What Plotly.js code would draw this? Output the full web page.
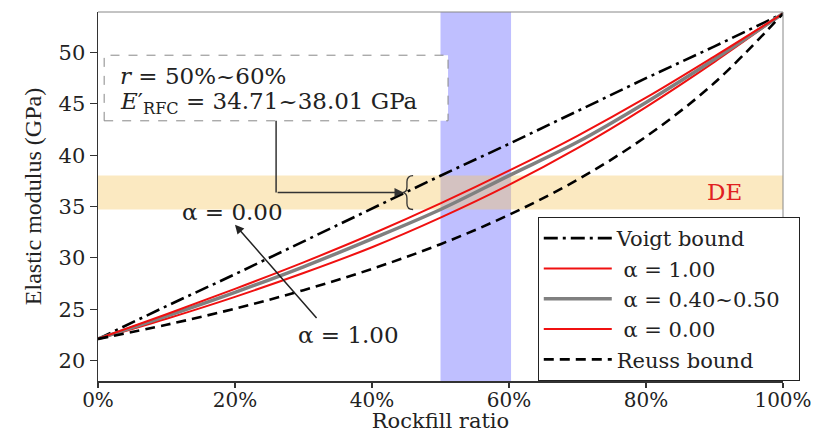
<!DOCTYPE html>
<html><head><meta charset="utf-8">
<script src="https://cdn.plot.ly/plotly-3.0.1.min.js"></script>
<style>html,body{margin:0;padding:0;background:#fff}#chart{width:820px;height:433px}</style>
</head><body><div id="chart"></div>
<script>
// Data
const rockfillRatio = [0, 10, 20, 30, 40, 50, 60, 70, 80, 90, 100];
const voigtBound   = [22.1, 25.3, 28.4, 31.6, 34.8, 38.0, 41.1, 44.3, 47.5, 50.6, 53.8];
const alpha100     = [22.1, 24.07, 26.20, 28.52, 31.03, 33.91, 37.10, 40.68, 44.69, 49.09, 53.8];
const alpha040050  = [22.1, 24.32, 26.64, 29.13, 31.85, 34.71, 38.01, 41.28, 45.14, 49.34, 53.8];
const alpha000     = [22.1, 24.50, 26.98, 29.56, 32.32, 35.30, 38.49, 41.89, 45.60, 49.63, 53.8];
const reussBound   = [22.1, 23.48, 25.05, 26.85, 28.92, 31.33, 34.19, 37.61, 41.81, 47.05, 53.8];
const seriesNames  = ['Voigt bound', ' α = 1.00', ' α = 0.40~0.50\u00a0\u00a0', ' α = 0.00', 'Reuss bound'];
const xTickVals = [0, 20, 40, 60, 80, 100];
const xTickText = ['0%', '20%', '40%', '60%', '80%', '100%'];
const yTickVals = [20, 25, 30, 35, 40, 45, 50];
const ratioRange = [50, 60];
const modulusRange = [34.71, 38.01];

const serif = 'DejaVu Serif, serif';
const times = 'Liberation Serif, Times New Roman, serif';

const traces = [
  {x: rockfillRatio, y: voigtBound, name: seriesNames[0], mode: 'lines',
   line: {color: '#000', width: 2.6, dash: '14px,5px,3px,5px'}},
  {x: rockfillRatio, y: alpha100, name: seriesNames[1], mode: 'lines',
   line: {color: '#f01010', width: 2, shape: 'spline'}},
  {x: rockfillRatio, y: alpha040050, name: seriesNames[2], mode: 'lines',
   line: {color: '#808080', width: 3.5, shape: 'spline'}},
  {x: rockfillRatio, y: alpha000, name: seriesNames[3], mode: 'lines',
   line: {color: '#f01010', width: 2, shape: 'spline'}},
  {x: rockfillRatio, y: reussBound, name: seriesNames[4], mode: 'lines',
   line: {color: '#000', width: 2.6, dash: '10px,6px', shape: 'spline'}}
];

const midE = (modulusRange[0] + modulusRange[1]) / 2;

const layout = {
  width: 820, height: 433,
  margin: {l: 98, r: 37, t: 12, b: 52},
  paper_bgcolor: '#fff', plot_bgcolor: '#fff',
  showlegend: true,
  legend: {
    x: 0.642, xanchor: 'left', y: 0, yanchor: 'bottom',
    bordercolor: '#222', borderwidth: 1, bgcolor: '#fff',
    font: {family: serif, size: 21, color: '#222'},
    itemwidth: 68
  },
  xaxis: {
    range: [0, 100], tickmode: 'array', tickvals: xTickVals, ticktext: xTickText,
    showgrid: false, zeroline: false,
    showline: true, linecolor: '#333', linewidth: 1.5,
    ticks: 'outside', ticklen: 5, tickcolor: '#333', tickwidth: 1.2, ticklabelstandoff: -5,
    tickfont: {family: serif, size: 20, color: '#222'},
    title: {text: 'Rockfill ratio', font: {family: serif, size: 21, color: '#222'}, standoff: 0}
  },
  yaxis: {
    range: [18.0, 53.95], tickvals: yTickVals,
    showgrid: false, zeroline: false,
    showline: true, linecolor: '#333', linewidth: 1.5,
    ticks: 'outside', ticklen: 7, tickcolor: '#333', tickwidth: 1.2,
    tickfont: {family: serif, size: 21, color: '#222'},
    title: {text: 'Elastic modulus (GPa)', font: {family: times, size: 24, color: '#222'}, standoff: 10}
  },
  shapes: [
    {type: 'rect', xref: 'x', yref: 'paper', x0: ratioRange[0], x1: ratioRange[1] + 0.3, y0: 0, y1: 1,
     fillcolor: 'rgba(0,0,255,0.25)', line: {width: 0}, layer: 'below'},
    {type: 'rect', xref: 'paper', yref: 'y', x0: 0, x1: 1, y0: modulusRange[0], y1: modulusRange[1],
     fillcolor: 'rgba(245,200,100,0.4)', line: {width: 0}, layer: 'below'},
    // top & right frame
    {type: 'line', xref: 'paper', yref: 'paper', x0: 0, x1: 1, y0: 1, y1: 1, line: {color: '#888', width: 1}},
    {type: 'line', xref: 'paper', yref: 'paper', x0: 1, x1: 1, y0: 0, y1: 1, line: {color: '#888', width: 1}},
    // dashed text box
    {type: 'rect', xref: 'x', yref: 'y', x0: 0.9, x1: 51.1, y0: 43.35, y1: 49.74,
     fillcolor: '#fff', line: {color: '#888', width: 1, dash: 'dash'}, layer: 'above'},
    // connector
    {type: 'line', xref: 'x', yref: 'y', x0: 26.0, x1: 26.0, y0: 43.35, y1: midE,
     line: {color: '#333', width: 1.5}},
    // brace
    {type: 'path', xref: 'x', yref: 'y',
     path: 'M 46.0,38.01 Q 45.1,38.01 45.1,37.4 L 45.1,36.9 Q 45.1,' + midE + ' 44.4,' + midE +
           ' Q 45.1,' + midE + ' 45.1,35.8 L 45.1,35.3 Q 45.1,34.71 46.0,34.71',
     line: {color: '#333', width: 1.3}}
  ],
  annotations: [
    {x: 2.9, y: 47.7, xref: 'x', yref: 'y', xanchor: 'left', yanchor: 'middle', showarrow: false,
     text: '<i>r</i> = 50%~60%', font: {family: serif, size: 23, color: '#222'}},
    {x: 2.9, y: 45.1, xref: 'x', yref: 'y', xanchor: 'left', yanchor: 'middle', showarrow: false,
     text: "<i>E</i>′<sub>RFC</sub> = 34.71~38.01 GPa", font: {family: serif, size: 23, color: '#222'}},
    {x: 44.6, y: midE, ax: 26.0, ay: midE, xref: 'x', yref: 'y', axref: 'x', ayref: 'y',
     text: '', showarrow: true, arrowhead: 2, arrowsize: 1.2, arrowwidth: 1.5, arrowcolor: '#333'},
    {x: 20.0, y: 33.23, ax: 32.1, ay: 23.99, xref: 'x', yref: 'y', axref: 'x', ayref: 'y',
     text: '', showarrow: true, arrowhead: 2, arrowsize: 1.2, arrowwidth: 1.5, arrowcolor: '#222'},
    {x: 19.6, y: 34.5, xref: 'x', yref: 'y', showarrow: false, text: 'α = 0.00',
     font: {family: serif, size: 23, color: '#222'}},
    {x: 36.6, y: 22.53, xref: 'x', yref: 'y', showarrow: false, text: 'α = 1.00',
     font: {family: serif, size: 23, color: '#222'}},
    {x: 91.4, y: 36.44, xref: 'x', yref: 'y', showarrow: false, text: 'DE',
     font: {family: serif, size: 23, color: '#e02020'}}
  ]
};

Plotly.newPlot('chart', traces, layout, {displayModeBar: false, staticPlot: true});
</script>
</body></html>
